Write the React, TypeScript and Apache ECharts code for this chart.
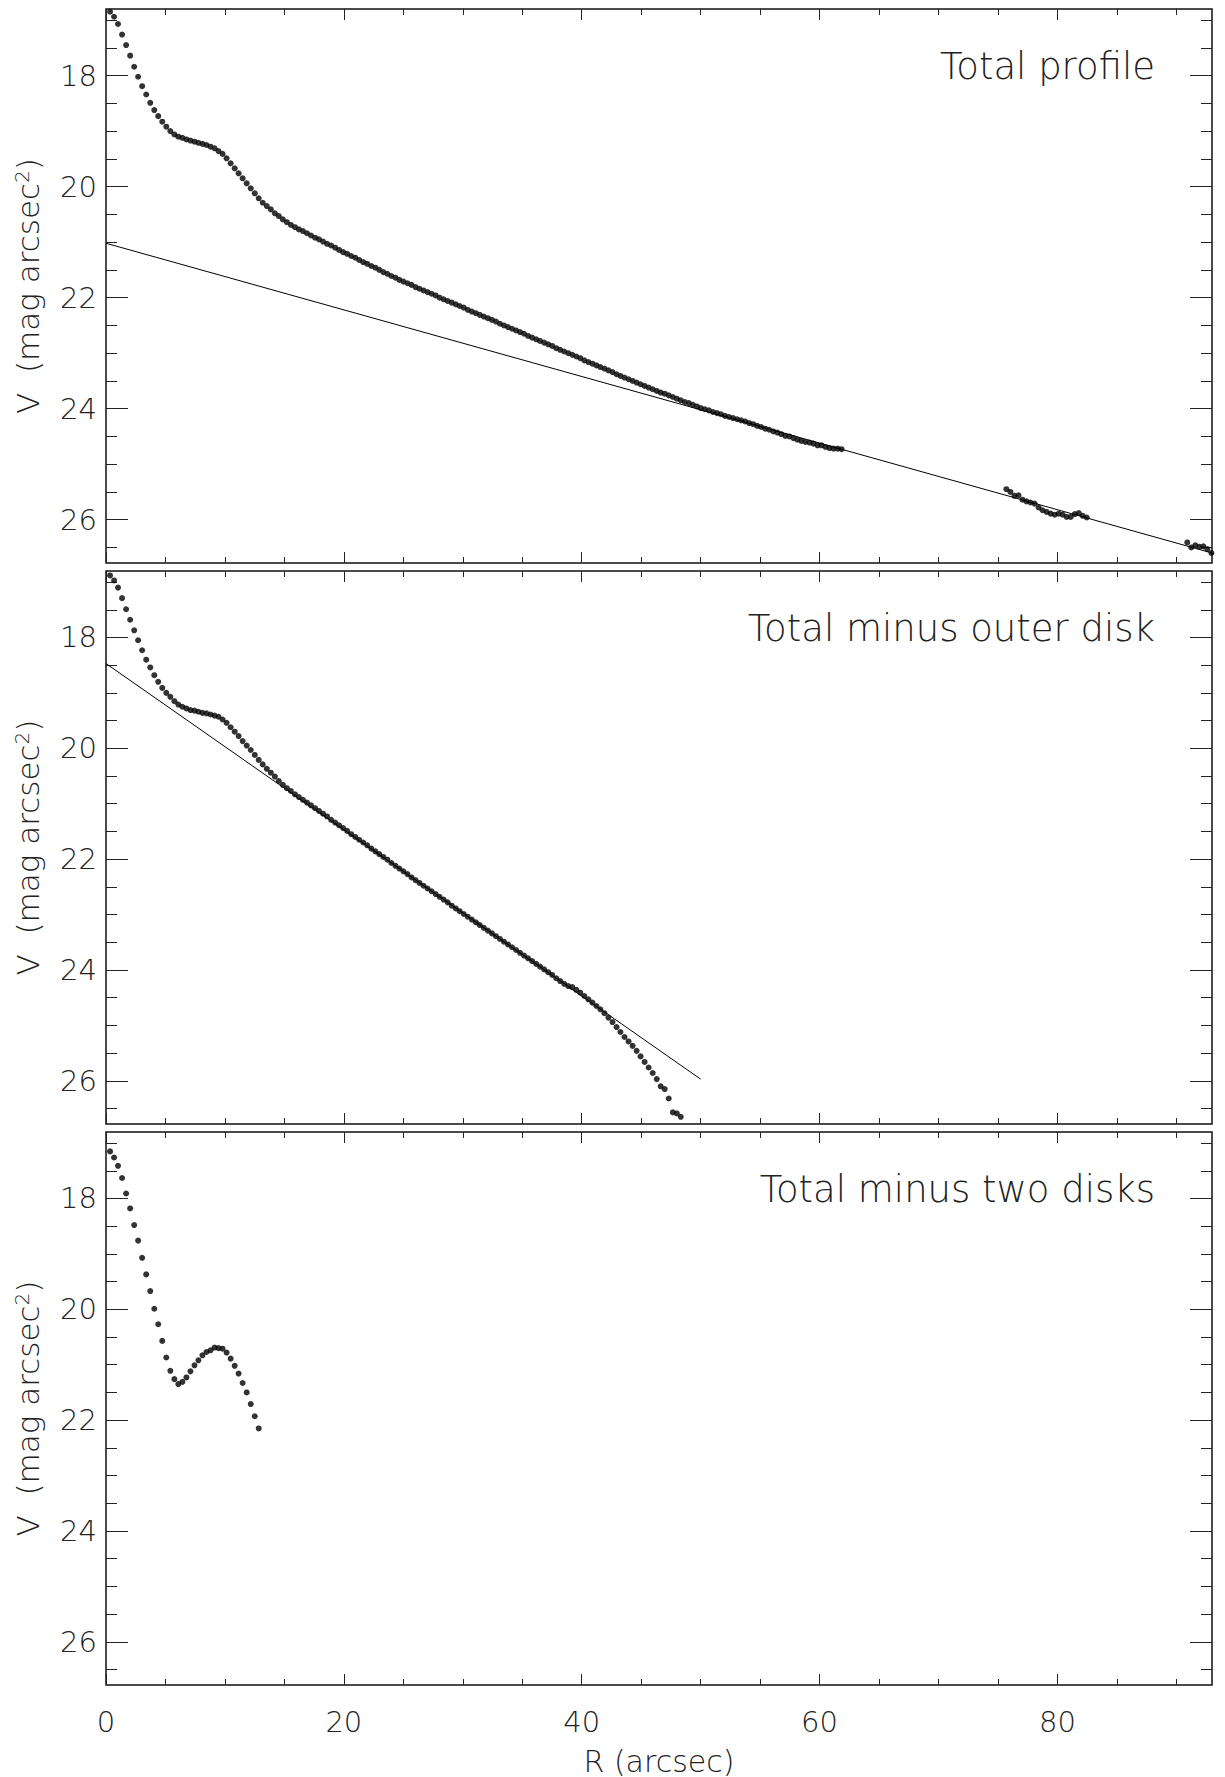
import React, { useEffect, useRef } from "react";
import * as echarts from "echarts";

// ---------------- data ----------------
// radius grid of the isophote samples (arcsec)
const radii = [
  0.34, 0.68, 1.01, 1.35, 1.69, 2.03, 2.37, 2.70, 3.04, 3.38,
  3.72, 4.06, 4.39, 4.73, 5.07, 5.41, 5.75, 6.08, 6.42, 6.76,
  7.10, 7.44, 7.77, 8.11, 8.45, 8.79, 9.13, 9.46, 9.80, 10.14,
  10.48, 10.82, 11.15, 11.49, 11.83, 12.17, 12.51, 12.84, 13.18, 13.52,
  13.86, 14.20, 14.53, 14.87, 15.21, 15.55, 15.89, 16.22, 16.56, 16.90,
  17.24, 17.58, 17.91, 18.25, 18.59, 18.93, 19.27, 19.60, 19.94, 20.28,
  20.62, 20.96, 21.29, 21.63, 21.97, 22.31, 22.65, 22.98, 23.32, 23.66,
  24.00, 24.34, 24.67, 25.01, 25.35, 25.69, 26.03, 26.36, 26.70, 27.04,
  27.38, 27.72, 28.05, 28.39, 28.73, 29.07, 29.41, 29.74, 30.08, 30.42,
  30.76, 31.10, 31.43, 31.77, 32.11, 32.45, 32.79, 33.12, 33.46, 33.80,
  34.14, 34.48, 34.81, 35.15, 35.49, 35.83, 36.17, 36.50, 36.84, 37.18,
  37.52, 37.86, 38.19, 38.53, 38.87, 39.21, 39.55, 39.88, 40.22, 40.56,
  40.90, 41.24, 41.57, 41.91, 42.25, 42.59, 42.93, 43.26, 43.60, 43.94,
  44.28, 44.62, 44.95, 45.29, 45.63, 45.97, 46.31, 46.64, 46.98, 47.32,
  47.66, 48.00, 48.33, 48.67, 49.01, 49.35, 49.69, 50.02, 50.36, 50.70,
  51.04, 51.38, 51.71, 52.05, 52.39, 52.73, 53.07, 53.40, 53.74, 54.08,
  54.42, 54.76, 55.09, 55.43, 55.77, 56.11, 56.45, 56.78, 57.12, 57.46,
  57.80, 58.14, 58.47, 58.81, 59.15, 59.49, 59.83, 60.16, 60.50, 60.84,
  61.18, 61.52, 61.85,
];

// panel 1: total profile (V mag arcsec^-2)
const totalProfile = [
  16.85, 16.94, 17.07, 17.26, 17.45, 17.64, 17.84, 18.02, 18.19, 18.34,
  18.49, 18.62, 18.73, 18.83, 18.92, 19.00, 19.06, 19.10, 19.12, 19.15,
  19.17, 19.19, 19.21, 19.23, 19.25, 19.28, 19.31, 19.36, 19.41, 19.49,
  19.58, 19.67, 19.76, 19.85, 19.94, 20.03, 20.12, 20.21, 20.29, 20.35,
  20.41, 20.48, 20.53, 20.59, 20.64, 20.69, 20.73, 20.77, 20.80, 20.84,
  20.88, 20.92, 20.95, 20.99, 21.03, 21.06, 21.10, 21.14, 21.18, 21.21,
  21.25, 21.28, 21.32, 21.36, 21.39, 21.43, 21.46, 21.50, 21.54, 21.57,
  21.61, 21.64, 21.68, 21.71, 21.74, 21.77, 21.81, 21.84, 21.87, 21.90,
  21.93, 21.96, 22.00, 22.03, 22.06, 22.09, 22.12, 22.15, 22.18, 22.22,
  22.25, 22.28, 22.31, 22.34, 22.37, 22.40, 22.43, 22.47, 22.50, 22.53,
  22.56, 22.59, 22.62, 22.65, 22.69, 22.72, 22.75, 22.78, 22.81, 22.84,
  22.87, 22.91, 22.94, 22.97, 23.00, 23.03, 23.06, 23.09, 23.13, 23.16,
  23.19, 23.22, 23.25, 23.28, 23.31, 23.34, 23.38, 23.41, 23.44, 23.47,
  23.50, 23.53, 23.56, 23.59, 23.62, 23.65, 23.68, 23.71, 23.73, 23.76,
  23.79, 23.82, 23.85, 23.88, 23.90, 23.93, 23.96, 23.99, 24.01, 24.03,
  24.06, 24.08, 24.10, 24.13, 24.15, 24.17, 24.19, 24.21, 24.23, 24.26,
  24.28, 24.31, 24.33, 24.36, 24.38, 24.41, 24.43, 24.46, 24.49, 24.50,
  24.53, 24.56, 24.58, 24.60, 24.61, 24.63, 24.66, 24.66, 24.69, 24.71,
  24.72, 24.72, 24.73,
];

// panel 1: outer isolated segments
const outerRadiiA = [
  75.71, 76.05, 76.39, 76.73, 77.06, 77.40, 77.74, 78.08, 78.42, 78.75,
  79.09, 79.43, 79.77, 80.11, 80.44, 80.78, 81.12, 81.46, 81.80, 82.13, 82.47,
];
const outerProfileA = [
  25.45, 25.50, 25.57, 25.56, 25.64, 25.67, 25.69, 25.71, 25.78, 25.83,
  25.86, 25.89, 25.91, 25.89, 25.91, 25.95, 25.95, 25.90, 25.88, 25.93, 25.96,
];
const outerRadiiB = [90.92, 91.26, 91.60, 91.94, 92.27, 92.61, 92.95];
const outerProfileB = [26.41, 26.50, 26.46, 26.49, 26.48, 26.53, 26.60];

// panel 2: total minus outer disk
const minusOuterDisk = [
  16.88, 16.97, 17.10, 17.29, 17.49, 17.68, 17.87, 18.05, 18.23, 18.40,
  18.54, 18.68, 18.80, 18.91, 19.00, 19.07, 19.15, 19.21, 19.25, 19.28,
  19.31, 19.32, 19.34, 19.36, 19.37, 19.39, 19.41, 19.43, 19.48, 19.54,
  19.62, 19.70, 19.78, 19.87, 19.95, 20.03, 20.12, 20.21, 20.29, 20.37,
  20.44, 20.51, 20.59, 20.66, 20.72, 20.77, 20.83, 20.88, 20.93, 20.98,
  21.03, 21.08, 21.13, 21.18, 21.23, 21.29, 21.34, 21.39, 21.44, 21.49,
  21.55, 21.60, 21.65, 21.70, 21.75, 21.81, 21.86, 21.91, 21.96, 22.01,
  22.07, 22.12, 22.17, 22.22, 22.27, 22.33, 22.38, 22.43, 22.48, 22.53,
  22.58, 22.63, 22.68, 22.73, 22.78, 22.84, 22.89, 22.94, 22.99, 23.04,
  23.09, 23.14, 23.19, 23.24, 23.29, 23.34, 23.39, 23.44, 23.49, 23.54,
  23.59, 23.64, 23.69, 23.74, 23.79, 23.84, 23.89, 23.94, 23.99, 24.04,
  24.09, 24.15, 24.20, 24.25, 24.29, 24.31, 24.36, 24.41, 24.47, 24.53,
  24.59, 24.65, 24.71, 24.78, 24.86, 24.94, 25.03, 25.12, 25.21, 25.29,
  25.37, 25.46, 25.56, 25.66, 25.76, 25.86, 25.97, 26.10, 26.15, 26.32,
  26.57, 26.59, 26.65,
];

// panel 3: total minus two disks
const minusTwoDisks = [
  17.15, 17.26, 17.41, 17.63, 17.91, 18.18, 18.48, 18.76, 19.07, 19.37,
  19.67, 19.99, 20.27, 20.57, 20.87, 21.11, 21.26, 21.35, 21.31, 21.23,
  21.12, 21.01, 20.92, 20.83, 20.77, 20.74, 20.69, 20.70, 20.71, 20.78,
  20.89, 21.02, 21.16, 21.33, 21.50, 21.71, 21.93, 22.15,
];

// exponential disk fits: [R, V] end points
const outerDiskFit = [[0, 21.02], [93, 26.6]];
const innerDiskFit = [[0, 18.47], [50, 25.97]];

const panelTitles = ["Total profile", "Total minus outer disk", "Total minus two disks"];

const xMajorTicks = [0, 20, 40, 60, 80];
const xMinorTicks = [5, 10, 15, 25, 30, 35, 45, 50, 55, 65, 70, 75, 85, 90];
const yMajorTicks = [18, 20, 22, 24, 26];
const yMinorTicks = [17, 17.5, 18.5, 19, 19.5, 20.5, 21, 21.5, 22.5, 23, 23.5, 24.5, 25, 25.5, 26.5];

const X_RANGE = [0, 93];
const Y_RANGE = [16.8, 26.78];

// ---------------- layout / style ----------------
const FONT = "DejaVu Sans";
const FW = 200;
const INK = "#222";
const GRID_LEFT = 106;
const GRID_WIDTH = 1106;
const GRIDS = [
  { top: 9, height: 554 },
  { top: 571, height: 553 },
  { top: 1132, height: 553 },
];

function pairs(xs: number[], ys: number[]) {
  const n = Math.min(xs.length, ys.length);
  const out: number[][] = [];
  for (let i = 0; i < n; i++) out.push([xs[i], ys[i]]);
  return out;
}

function buildOption() {
  const grid = GRIDS.map((g) => ({
    left: GRID_LEFT,
    width: GRID_WIDTH,
    top: g.top,
    height: g.height,
    show: true,
    borderColor: "#111",
    borderWidth: 1.5,
    backgroundColor: "transparent",
    containLabel: false,
    outerBoundsMode: "none",
  }));

  const xAxis: any[] = [];
  const yAxis: any[] = [];
  GRIDS.forEach((_, k) => {
    const last = k === GRIDS.length - 1;
    const xb = {
      type: "value",
      gridIndex: k,
      min: X_RANGE[0],
      max: X_RANGE[1],
      splitLine: { show: false },
      axisLine: { show: false, onZero: false },
    };
    const tick = (len: number, vals: number[]) => ({
      show: true,
      inside: true,
      length: len,
      customValues: vals,
      lineStyle: { color: INK, width: 1 },
    });
    xAxis.push({
      ...xb,
      position: "bottom",
      axisTick: tick(11, xMajorTicks),
      axisLabel: last
        ? {
            show: true,
            customValues: xMajorTicks,
            margin: 22,
            fontSize: 29,
            fontFamily: FONT,
            fontWeight: FW,
            color: INK,
          }
        : { show: false },
      name: last ? "R (arcsec)" : "",
      nameLocation: "middle",
      nameGap: 61,
      nameTextStyle: { fontSize: 30, fontFamily: FONT, fontWeight: FW, color: INK },
    });
    xAxis.push({ ...xb, position: "bottom", axisTick: tick(6, xMinorTicks), axisLabel: { show: false } });
    xAxis.push({ ...xb, position: "top", axisTick: tick(11, xMajorTicks), axisLabel: { show: false } });
    xAxis.push({ ...xb, position: "top", axisTick: tick(6, xMinorTicks), axisLabel: { show: false } });

    const yb = {
      type: "value",
      gridIndex: k,
      inverse: true,
      min: Y_RANGE[0],
      max: Y_RANGE[1],
      splitLine: { show: false },
      axisLine: { show: false, onZero: false },
    };
    yAxis.push({
      ...yb,
      position: "left",
      axisTick: tick(22, yMajorTicks),
      axisLabel: {
        show: true,
        customValues: yMajorTicks,
        margin: 9,
        fontSize: 29,
        fontFamily: FONT,
        fontWeight: FW,
        color: INK,
      },
      name: "{m|V  (mag arcsec}{s|2}{m|)}",
      nameLocation: "middle",
      nameGap: 63,
      nameTextStyle: {
        fontSize: 31,
        fontFamily: FONT,
        fontWeight: FW,
        color: INK,
        rich: {
          m: { fontSize: 31, fontFamily: FONT, fontWeight: FW, color: INK },
          s: { fontSize: 20, fontFamily: FONT, fontWeight: FW, color: INK, verticalAlign: "top", lineHeight: 18 },
        },
      },
    });
    yAxis.push({ ...yb, position: "left", axisTick: tick(11, yMinorTicks), axisLabel: { show: false } });
    yAxis.push({ ...yb, position: "right", axisTick: tick(22, yMajorTicks), axisLabel: { show: false } });
    yAxis.push({ ...yb, position: "right", axisTick: tick(11, yMinorTicks), axisLabel: { show: false } });
  });

  const dots = (k: number, data: number[][]) => ({
    type: "scatter",
    xAxisIndex: 4 * k,
    yAxisIndex: 4 * k,
    data,
    symbol: "circle",
    symbolSize: 6,
    itemStyle: { color: "#000" },
    silent: true,
    z: 3,
  });
  const fit = (k: number, data: number[][]) => ({
    type: "line",
    xAxisIndex: 4 * k,
    yAxisIndex: 4 * k,
    data,
    showSymbol: false,
    symbol: "none",
    lineStyle: { color: "#000", width: 1 },
    silent: true,
    z: 2,
  });

  const series = [
    fit(0, outerDiskFit),
    dots(0, [
      ...pairs(radii, totalProfile),
      ...pairs(outerRadiiA, outerProfileA),
      ...pairs(outerRadiiB, outerProfileB),
    ]),
    fit(1, innerDiskFit),
    dots(1, pairs(radii, minusOuterDisk)),
    dots(2, pairs(radii, minusTwoDisks)),
  ];

  const graphic = GRIDS.map((g, k) => ({
    type: "text",
    x: GRID_LEFT + GRID_WIDTH - 57,
    y: g.top + 57,
    silent: true,
    style: {
      text: panelTitles[k],
      fill: INK,
      fontSize: 37,
      fontFamily: FONT,
      fontWeight: FW,
      align: "right",
      textAlign: "right",
      verticalAlign: "middle",
      textVerticalAlign: "middle",
    },
  }));

  return {
    animation: false,
    backgroundColor: "#fff",
    grid,
    xAxis,
    yAxis,
    series,
    graphic,
  };
}

export default function App() {
  const ref = useRef<HTMLDivElement>(null);
  useEffect(() => {
    if (!ref.current) return;
    const chart = echarts.init(ref.current, undefined, { renderer: "svg" });
    chart.setOption(buildOption() as any);
    return () => chart.dispose();
  }, []);
  return (
    <div
      ref={ref}
      style={{ position: "absolute", left: 0, top: 0, width: 1225, height: 1777, background: "#fff" }}
    />
  );
}
